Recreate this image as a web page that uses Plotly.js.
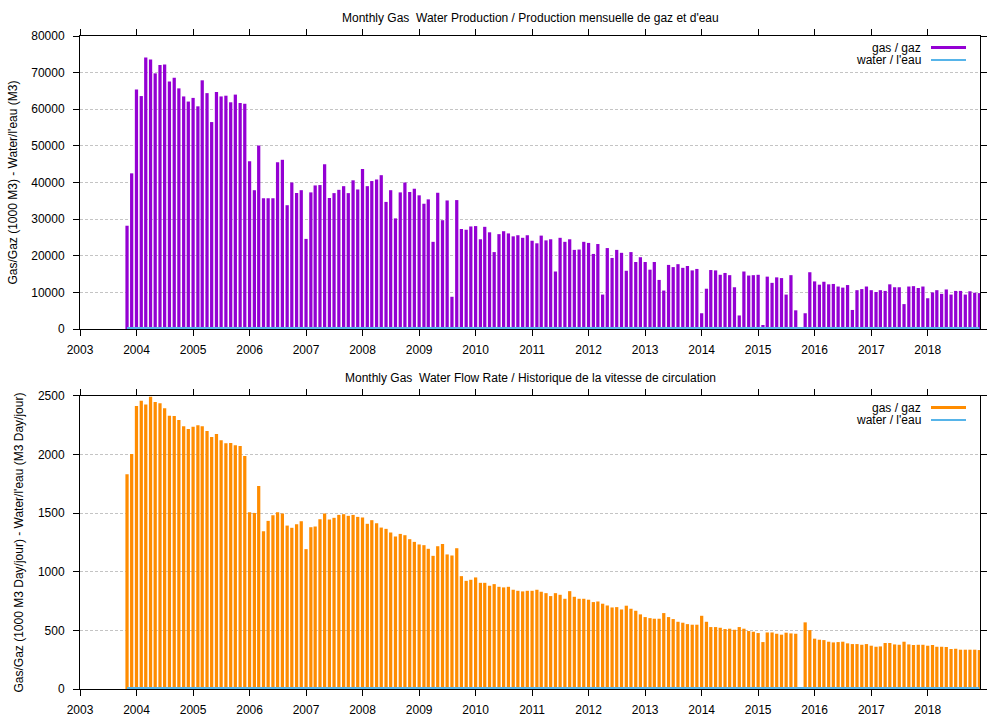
<!DOCTYPE html>
<html>
<head>
<meta charset="utf-8">
<script src="https://cdn.plot.ly/plotly-3.0.1.min.js"></script>
<style>html,body{margin:0;padding:0;background:#fff;}#chart{width:1008px;height:720px;}</style>
</head>
<body>
<div id="chart"></div>
<script>
// First month of data: November 2003, monthly through December 2018
var startYear = 2003;
var startMonth = 11;

// Monthly gas production (1000 M3)
var gasProduction = [
  28200, 42500,
  65400, 63600, 74100, 73600, 69800, 72100, 72200, 67600, 68600, 65700, 63500, 62100,
  63100, 60800, 67900, 64400, 56500, 64700, 63500, 63700, 61900, 64000, 61700, 61500,
  45800, 37900, 50100, 35700, 35700, 35700, 45500, 46200, 33800, 40000, 37100, 37900,
  24600, 37300, 39200, 39300, 45000, 35800, 37100, 38000, 39000, 37100, 40600, 38100,
  43700, 39000, 40400, 40800, 42000, 34700, 37900, 30200, 37300, 40000, 37400, 38300,
  36500, 34200, 35400, 23800, 37200, 29700, 35100, 8800, 35200, 27300, 27100, 28000,
  28100, 24500, 27900, 26400, 21000, 25900, 26700, 26100, 25300, 25600, 24900, 25600,
  24100, 23400, 25500, 24200, 24500, 15700, 24900, 23800, 24500, 21600, 21700, 23800,
  23500, 20500, 23200, 9400, 22100, 19400, 21600, 20800, 15900, 21000, 18300, 19600,
  18300, 16200, 18300, 13400, 10500, 17500, 16900, 17700, 16700, 17200, 16000, 16400,
  4300, 11000, 16100, 16000, 14800, 15300, 14700, 11400, 3700, 15700, 14600, 14700,
  14800, 1100, 14300, 12600, 14100, 13900, 9400, 14700, 5100, 0, 4300, 15500,
  13000, 12100, 12900, 12200, 12300, 11600, 11300, 12000, 5200, 10600, 10900, 11600,
  10600, 10100, 10600, 10400, 12200, 11400, 11400, 6800, 11600, 11700, 11200, 11600,
  8400, 10000, 10600, 9600, 10800, 9400, 10400, 10400, 9400, 10300, 9900, 9800
];

// Monthly water production (M3)
var waterProduction = [
  0, 0,
  0,0,0,0,0,0,0,0,0,0,0,0, 0,0,0,0,0,0,0,0,0,0,0,0, 0,0,0,0,0,0,0,0,0,0,0,0,
  0,0,0,0,0,0,0,0,0,0,0,0, 0,0,0,0,0,0,0,0,0,0,0,0, 0,0,0,0,0,0,0,0,0,0,0,0,
  0,0,0,0,0,0,0,0,0,0,0,0, 0,0,0,0,0,0,0,0,0,0,0,0, 0,0,0,0,0,0,0,0,0,0,0,0,
  0,0,0,0,0,0,0,0,0,0,0,0, 0,0,0,0,0,0,0,0,0,0,0,0, 0,0,0,0,0,0,0,0,0,0,0,0,
  0,0,0,0,0,0,0,0,0,0,0,0, 0,0,0,0,0,0,0,0,0,0,0,0, 0,0,0,0,0,0,0,0,0,0,0,0
];

// Gas flow rate (1000 M3 Day/jour)
var gasRate = [
  1830, 2004,
  2412, 2458, 2426, 2492, 2446, 2435, 2392, 2330, 2327, 2293, 2239, 2216,
  2236, 2248, 2239, 2199, 2148, 2174, 2120, 2094, 2097, 2077, 2072, 1987,
  1507, 1501, 1731, 1345, 1433, 1481, 1507, 1496, 1393, 1374, 1405, 1430,
  1192, 1379, 1385, 1447, 1496, 1445, 1459, 1484, 1490, 1476, 1484, 1467,
  1462, 1408, 1439, 1413, 1376, 1365, 1334, 1300, 1322, 1311, 1277, 1254,
  1232, 1226, 1195, 1135, 1217, 1237, 1147, 1138, 1200, 962, 922, 931,
  951, 905, 905, 880, 894, 871, 866, 871, 846, 837, 832, 837,
  837, 846, 829, 817, 792, 817, 803, 769, 834, 786, 769, 769,
  761, 741, 746, 727, 712, 695, 698, 678, 710, 684, 667, 636,
  613, 604, 599, 599, 647, 613, 596, 573, 565, 553, 548, 548,
  624, 573, 528, 528, 522, 511, 514, 505, 528, 514, 494, 488,
  477, 400, 482, 482, 471, 463, 480, 474, 471, 0, 568, 502,
  429, 420, 417, 403, 397, 400, 403, 389, 383, 383, 377, 383,
  369, 360, 363, 392, 392, 380, 377, 403, 380, 375, 377, 377,
  369, 375, 360, 360, 358, 341, 343, 335, 335, 335, 335, 332
];

// Water flow rate (M3 Day/jour)
var waterRate = waterProduction.slice();

var gasName = "gas / gaz";
var waterName = "water / l'eau";
var topTitle = "Monthly Gas  Water Production / Production mensuelle de gaz et d'eau";
var bottomTitle = "Monthly Gas  Water Flow Rate / Historique de la vitesse de circulation";
var topYTitle = "Gas/Gaz (1000 M3) - Water/l'eau (M3)";
var bottomYTitle = "Gas/Gaz (1000 M3 Day/jour) - Water/l'eau (M3 Day/jour)";

var purple = '#9400D3', orange = '#FF8C00', blue = '#56B4E9';

var months = [];
for (var i = 0; i < gasProduction.length; i++) {
  var m0 = startMonth - 1 + i;
  var y = startYear + Math.floor(m0 / 12);
  var m = (m0 % 12) + 1;
  months.push(y + '-' + (m < 10 ? '0' + m : m) + '-01');
}

var barWidth = 21 * 86400000;
var font = {family: 'Liberation Sans, Arial, sans-serif', size: 12, color: '#000'};

var traces = [
  {type: 'bar', x: months, y: gasProduction, width: barWidth, xaxis: 'x', yaxis: 'y',
   marker: {color: purple, line: {width: 0}}, showlegend: false, hoverinfo: 'x+y'},
  {type: 'scatter', mode: 'lines', x: months, y: waterProduction, xaxis: 'x', yaxis: 'y',
   line: {color: blue, width: 4, shape: 'hv'}, cliponaxis: false, showlegend: false},
  {type: 'bar', x: months, y: gasRate, width: barWidth, xaxis: 'x2', yaxis: 'y2',
   marker: {color: orange, line: {width: 0}}, showlegend: false},
  {type: 'scatter', mode: 'lines', x: months, y: waterRate, xaxis: 'x2', yaxis: 'y2',
   line: {color: blue, width: 4, shape: 'hv'}, cliponaxis: false, showlegend: false}
];

function xAxis(anchor) {
  return {
    type: 'date', anchor: anchor, range: ['2003-01-01', '2018-12-05'],
    tick0: '2003-01-01', dtick: 'M12', tickformat: '%Y',
    ticks: 'outside', ticklen: 6, tickwidth: 1, tickcolor: '#000',
    showline: true, linecolor: '#000', linewidth: 1, mirror: 'ticks',
    showgrid: false, zeroline: false, layer: 'below traces',
    tickfont: font, ticklabelstandoff: 4, fixedrange: true
  };
}
function yAxis(anchor, domain, max, dtick) {
  return {
    anchor: anchor, domain: domain, range: [0, max], dtick: dtick, tick0: 0,
    tickformat: 'd', ticks: 'outside', ticklen: 6, tickwidth: 1, tickcolor: '#000',
    showline: true, linecolor: '#000', linewidth: 1, mirror: 'ticks',
    showgrid: true, gridcolor: '#c4c4c4', gridwidth: 1, griddash: '3px,2px',
    zeroline: false, layer: 'below traces', tickfont: font, ticklabelstandoff: 6,
    fixedrange: true
  };
}

var PL = 80, PR = 980, PB = 689, PH = 653;
function px(x) { return (x - PL) / (PR - PL); }
function py(y) { return (PB - y) / PH; }

var layout = {
  width: 1008, height: 720, autosize: false,
  margin: {l: 80, r: 28, t: 36, b: 31, pad: 0},
  paper_bgcolor: '#fff', plot_bgcolor: '#fff',
  font: font, showlegend: false, barmode: 'overlay',
  xaxis: xAxis('y'),
  yaxis: yAxis('x', [py(329), 1], 80000, 10000),
  xaxis2: xAxis('y2'),
  yaxis2: yAxis('x2', [0, py(395.7)], 2500, 500),
  annotations: [
    {text: topTitle, xref: 'paper', yref: 'paper', x: 0.5, y: py(18), xanchor: 'center', yanchor: 'middle', showarrow: false, font: font},
    {text: bottomTitle, xref: 'paper', yref: 'paper', x: 0.5, y: py(378), xanchor: 'center', yanchor: 'middle', showarrow: false, font: font},
    {text: topYTitle, xref: 'paper', yref: 'paper', x: px(13), y: py(182.5), xanchor: 'center', yanchor: 'middle', textangle: -90, showarrow: false, font: font},
    {text: bottomYTitle, xref: 'paper', yref: 'paper', x: px(18), y: py(542.5), xanchor: 'center', yanchor: 'middle', textangle: -90, showarrow: false, font: font},
    {text: gasName, xref: 'paper', yref: 'paper', x: px(923), y: py(47.5), xanchor: 'right', yanchor: 'middle', showarrow: false, font: font},
    {text: waterName, xref: 'paper', yref: 'paper', x: px(923), y: py(60), xanchor: 'right', yanchor: 'middle', showarrow: false, font: font},
    {text: gasName, xref: 'paper', yref: 'paper', x: px(923), y: py(407.5), xanchor: 'right', yanchor: 'middle', showarrow: false, font: font},
    {text: waterName, xref: 'paper', yref: 'paper', x: px(923), y: py(420), xanchor: 'right', yanchor: 'middle', showarrow: false, font: font}
  ],
  shapes: [
    {type: 'line', xref: 'paper', yref: 'paper', x0: px(931), x1: px(966), y0: py(47.5), y1: py(47.5), line: {color: purple, width: 3}},
    {type: 'line', xref: 'paper', yref: 'paper', x0: px(931), x1: px(966), y0: py(60), y1: py(60), line: {color: blue, width: 2}},
    {type: 'line', xref: 'paper', yref: 'paper', x0: px(931), x1: px(966), y0: py(407.5), y1: py(407.5), line: {color: orange, width: 3}},
    {type: 'line', xref: 'paper', yref: 'paper', x0: px(931), x1: px(966), y0: py(420), y1: py(420), line: {color: blue, width: 2}}
  ]
};

Plotly.newPlot('chart', traces, layout, {displayModeBar: false, staticPlot: true});
</script>
</body>
</html>
